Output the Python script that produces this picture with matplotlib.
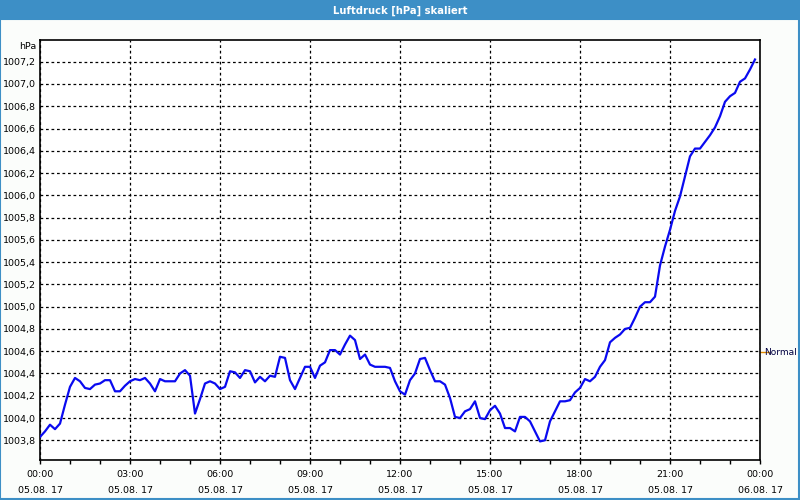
import numpy as np
import pandas as pd
import matplotlib
matplotlib.use("Agg")
import matplotlib.pyplot as plt
import matplotlib.dates as mdates
from matplotlib.patches import Rectangle
from matplotlib.ticker import FixedLocator, FuncFormatter

# air pressure readings, one every 10 minutes starting 05.08.17 00:00
pressure = [
    1003.83, 1003.88, 1003.94, 1003.90, 1003.95, 1004.12, 1004.28, 1004.36, 1004.33, 1004.27,
    1004.26, 1004.30, 1004.31, 1004.34, 1004.34, 1004.24, 1004.24, 1004.29, 1004.33, 1004.35,
    1004.34, 1004.36, 1004.31, 1004.24, 1004.35, 1004.33, 1004.33, 1004.33, 1004.40, 1004.43,
    1004.38, 1004.04, 1004.17, 1004.31, 1004.33, 1004.31, 1004.26, 1004.28, 1004.42, 1004.41,
    1004.36, 1004.43, 1004.42, 1004.32, 1004.37, 1004.33, 1004.38, 1004.37, 1004.55, 1004.54,
    1004.34, 1004.26, 1004.36, 1004.46, 1004.46, 1004.36, 1004.47, 1004.50, 1004.61, 1004.61,
    1004.57, 1004.66, 1004.74, 1004.70, 1004.53, 1004.57, 1004.48, 1004.46, 1004.46, 1004.46,
    1004.45, 1004.33, 1004.24, 1004.21, 1004.34, 1004.40, 1004.53, 1004.54, 1004.43, 1004.33,
    1004.33, 1004.30, 1004.18, 1004.01, 1004.00, 1004.06, 1004.08, 1004.15, 1004.00, 1003.99,
    1004.07, 1004.11, 1004.04, 1003.91, 1003.91, 1003.88, 1004.01, 1004.01, 1003.97, 1003.88,
    1003.79, 1003.80, 1003.97, 1004.06, 1004.15, 1004.15, 1004.16, 1004.23, 1004.27, 1004.35,
    1004.33, 1004.37, 1004.46, 1004.52, 1004.68, 1004.72, 1004.75, 1004.80, 1004.81, 1004.90,
    1005.00, 1005.04, 1005.04, 1005.09, 1005.37, 1005.54, 1005.69, 1005.86, 1005.99, 1006.17,
    1006.35, 1006.42, 1006.42, 1006.48, 1006.54, 1006.61, 1006.71, 1006.84, 1006.89, 1006.92,
    1007.02, 1007.05, 1007.13, 1007.22,
]
times = pd.date_range("2017-08-05 00:00", periods=len(pressure), freq="10min")

y_ticks = [1003.8, 1004.0, 1004.2, 1004.4, 1004.6, 1004.8, 1005.0, 1005.2, 1005.4,
           1005.6, 1005.8, 1006.0, 1006.2, 1006.4, 1006.6, 1006.8, 1007.0, 1007.2]
normal_level = 1004.59

title = "Luftdruck [hPa] skaliert"
start = pd.Timestamp("2017-08-05 00:00")
end = pd.Timestamp("2017-08-06 00:00")

fs = 6.8

fig = plt.figure(figsize=(8, 5), dpi=100, facecolor="#fbfdfb")

# window title bar and border
fig.patches.append(Rectangle((0, 0.96), 1, 0.04, transform=fig.transFigure,
                             facecolor="#3d8fc6", edgecolor="none", zorder=0))
fig.patches.append(Rectangle((0.0006, 0.003), 0.9982, 0.96, transform=fig.transFigure,
                             facecolor="none", edgecolor="#3d8fc6", linewidth=1.5, zorder=0))
fig.text(0.5, 0.979, title, color="white", fontsize=7.2, fontweight="bold",
         ha="center", va="center")

ax = fig.add_axes([0.05, 0.08, 0.9, 0.84])
ax.set_facecolor("white")
ax.plot(times, pressure, color="#0a0af0", linewidth=1.6, zorder=3)

ax.set_xlim(start, end)
ax.set_ylim(1003.623, 1007.395)

# x axis: major every 3 hours, minor every hour
ax.xaxis.set_major_locator(mdates.HourLocator(byhour=range(0, 24, 3)))
ax.xaxis.set_minor_locator(mdates.HourLocator())
ax.xaxis.set_major_formatter(FuncFormatter(
    lambda v, pos: mdates.num2date(v).strftime("%H:%M\n%d.%m.%y").replace(".17", ". 17")))
ax.tick_params(axis="x", which="both", direction="out", length=3, width=1,
               labelsize=fs, pad=4.5)

ax.yaxis.set_major_locator(FixedLocator(y_ticks))
ax.yaxis.set_major_formatter(FuncFormatter(lambda v, pos: f"{v:.1f}".replace(".", ",")))
ax.tick_params(axis="y", length=0, labelsize=fs, pad=3)

for lab in ax.get_xticklabels():
    lab.set_linespacing(1.95)

ax.grid(True, which="major", color="black", linestyle=(0, (2.2, 2.2)), linewidth=0.9)

for side in ["top", "right", "left", "bottom"]:
    ax.spines[side].set_linewidth(1.2)

ax.text(-0.005, 1.0 - 6 / 420, "hPa", transform=ax.transAxes, ha="right", va="center",
        fontsize=fs)

# "Normal" marker on the right side
ax.plot([1.0, 1.012], [normal_level, normal_level], color="#e08a00", linewidth=1,
        transform=ax.get_yaxis_transform(), clip_on=False)
ax.text(1.006, normal_level, "Normal", transform=ax.get_yaxis_transform(),
        ha="left", va="center", fontsize=6.5, color="#000040")

fig.savefig("out.png", dpi=100, facecolor=fig.get_facecolor())
